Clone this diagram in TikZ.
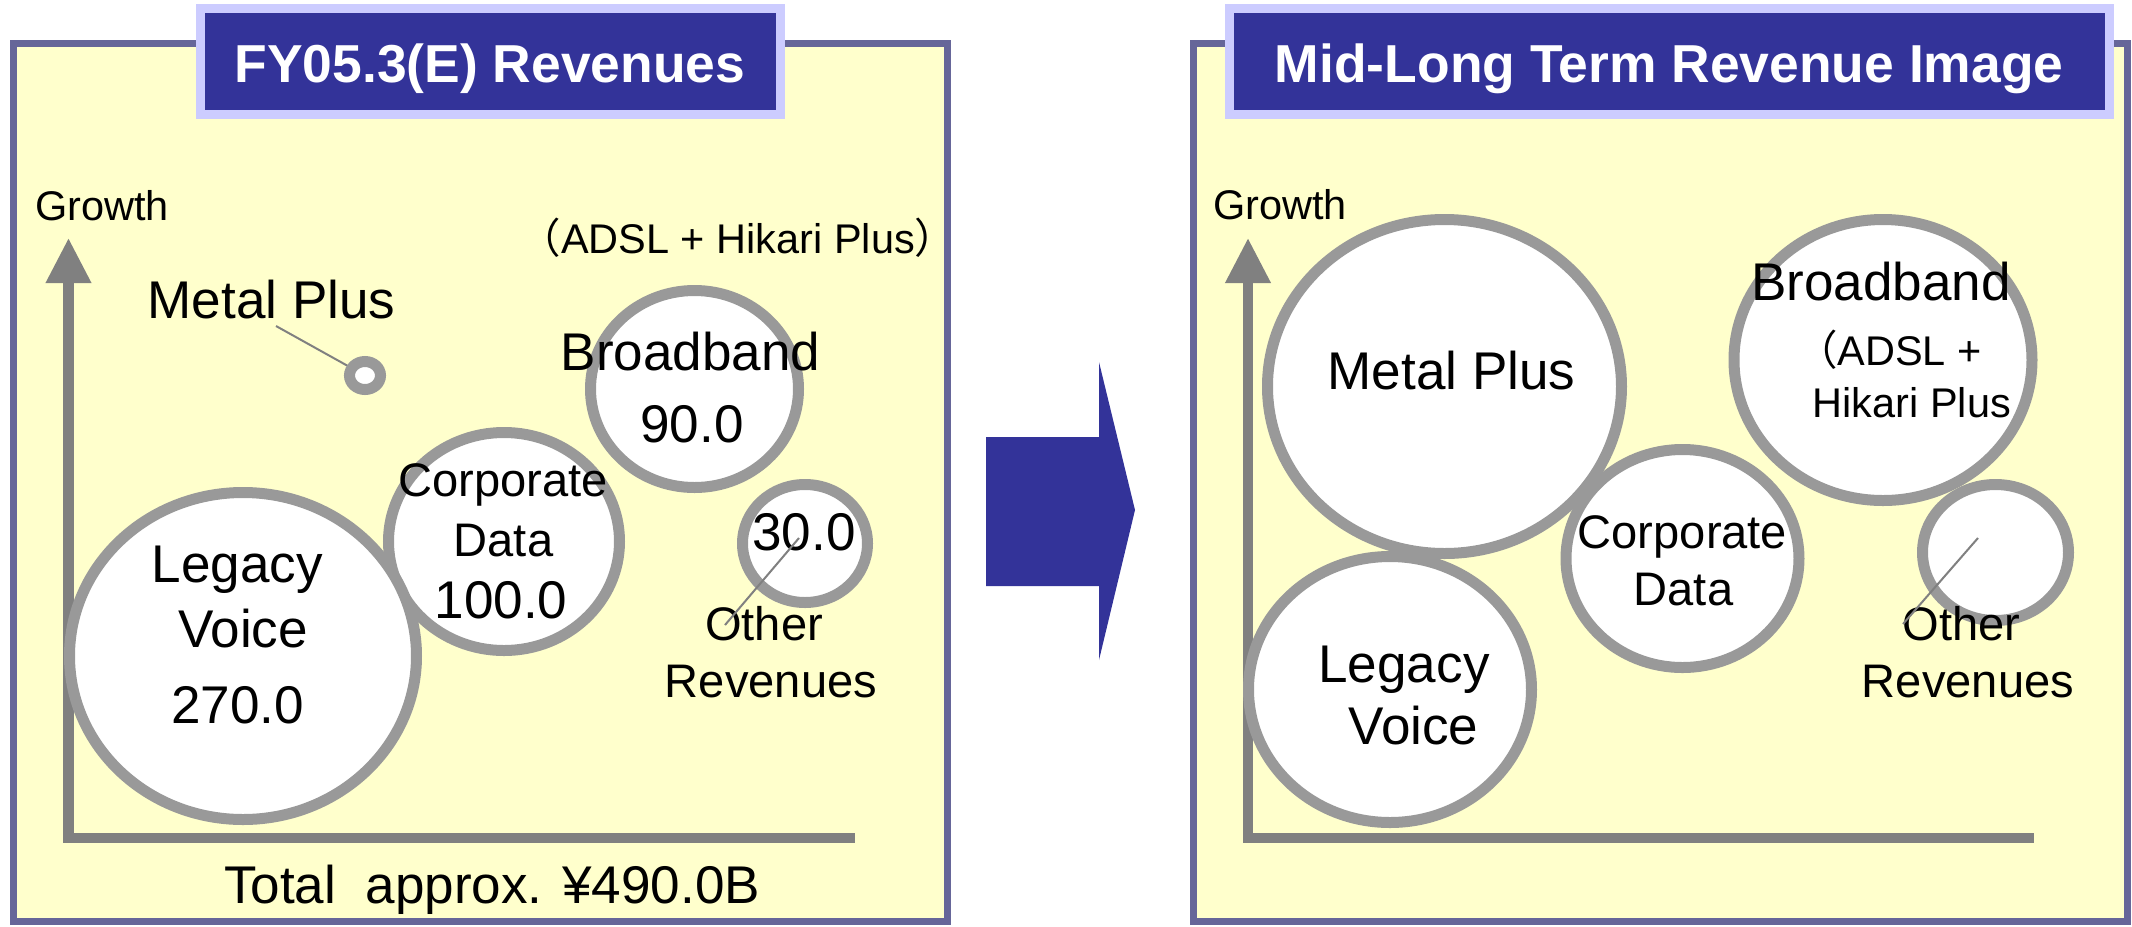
\documentclass[tikz,border=0pt]{standalone}
\usepackage{fontspec}
\setmainfont{Liberation Sans}
\newfontfamily\cjk{Noto Sans CJK JP}
\usetikzlibrary{arrows.meta,shapes.geometric}
\definecolor{panelfill}{HTML}{FFFFCC}
\definecolor{panelline}{HTML}{666699}
\definecolor{titlefill}{HTML}{333399}
\definecolor{titleline}{HTML}{CCCCFF}
\definecolor{bubbleline}{HTML}{999999}
\definecolor{axisgray}{HTML}{808080}
\tikzset{
  panelbox/.style={draw=panelline, fill=panelfill, line width=0.07cm},
  titlebox/.style={draw=titleline, fill=titlefill, line width=0.09cm, text=white,
    font=\fontsize{15.2pt}{18pt}\selectfont\bfseries, minimum height=1.055cm,
    text height=0.5cm, text depth=0.08cm, inner sep=0pt},
  bubble/.style={ellipse, draw=bubbleline, fill=white, line width=0.11cm, inner sep=0pt},
  bigtext/.style={inner sep=0pt, anchor=base, font=\fontsize{15.1pt}{18pt}\selectfont},
  midtext/.style={inner sep=0pt, anchor=base, font=\fontsize{13.4pt}{16pt}\selectfont},
  smalltext/.style={inner sep=0pt, anchor=base, font=\fontsize{11.8pt}{14pt}\selectfont},
  axisline/.style={draw=axisgray, line width=0.1cm, {Triangle[width=0.43cm,length=0.45cm]}-},
  leaderline/.style={draw=axisgray, line width=0.02cm}
}
\begin{document}
\begin{tikzpicture}[y=-1cm]
\useasboundingbox (0,0) rectangle (21.32,9.26);
\draw[panelbox] (0.13,0.435) rectangle (9.47,9.21);
\draw[panelbox] (11.93,0.435) rectangle (21.27,9.21);
\node[titlebox, minimum width=5.80cm] (ttlL) at (4.90,0.6125) {FY05.3(E) Revenues};
\node[titlebox, minimum width=8.795cm] (ttlR) at (16.6925,0.6125) {Mid-Long Term Revenue Image};
\fill[titlefill] (9.86,4.37) -- (10.99,4.37) -- (10.99,3.62) -- (11.35,5.10) -- (10.99,6.60) -- (10.99,5.86) -- (9.86,5.86) -- cycle;
%left
\coordinate (topL) at (0.685,2.38);
\coordinate (cornerL) at (0.685,8.375);
\coordinate (endL) at (8.55,8.375);
\draw[axisline] (topL) -- (cornerL) -- (endL);
\node[smalltext] (growL) at (1.02,2.20) {Growth};
\node[smalltext] (adslL) at (7.38,2.53) {{\cjk （}ADSL + Hikari Plus{\cjk ）}};
\node[bubble, minimum width=2.31cm, minimum height=2.18cm] (cdL) at (5.04,5.415) {};
\node[bubble, minimum width=3.47cm, minimum height=3.27cm] (lvL) at (2.43,6.56) {};
\node[bubble, minimum width=2.08cm, minimum height=1.97cm] (bbL) at (6.945,3.89) {};
\node[bubble, minimum width=1.25cm, minimum height=1.18cm] (orL) at (8.05,5.435) {};
\node[bubble, minimum width=0.31cm, minimum height=0.28cm] (mpL) at (3.65,3.755) {};
\node[bigtext] (mptxtL) at (2.715,3.18) {Metal Plus};
\node[bigtext] (bbtxtL) at (6.905,3.70) {Broadband};
\node[bigtext] (bbvalL) at (6.92,4.42) {90.0};
\node[midtext] (cdtxtL) at (5.03,4.96) {Corporate};
\node[midtext] (cdtxtL2) at (5.035,5.56) {Data};
\node[bigtext] (cdvalL) at (5.01,6.18) {100.0};
\node[bigtext] (lvtxtL) at (2.375,5.82) {Legacy};
\node[bigtext] (lvtxtL2) at (2.43,6.47) {Voice};
\node[bigtext] (lvvalL) at (2.375,7.23) {270.0};
\node[bigtext] (orvalL) at (8.04,5.50) {30.0};
\node[midtext] (ortxtL) at (7.64,6.40) {Other};
\node[midtext] (ortxtL2) at (7.71,6.97) {Revenues};
\node[bigtext] (totalL) at (4.92,9.03) {Total\ \ approx. ¥490.0B};
\draw[leaderline] ([shift={(0.045,0.08)}]mptxtL.base) -- (mpL);
\draw[leaderline] ([shift={(-0.39,-0.15)}]ortxtL.base) -- ([shift={(-0.06,-0.055)}]orL.center);
%right
\coordinate (topR) at (12.48,2.38);
\coordinate (cornerR) at (12.48,8.375);
\coordinate (endR) at (20.34,8.375);
\draw[axisline] (topR) -- (cornerR) -- (endR);
\node[smalltext] (growR) at (12.80,2.19) {Growth};
\node[bubble, minimum width=3.54cm, minimum height=3.34cm] (mpR) at (14.445,3.865) {};
\node[bubble, minimum width=2.98cm, minimum height=2.81cm] (bbR) at (18.83,3.60) {};
\node[bubble, minimum width=2.33cm, minimum height=2.18cm] (cdR) at (16.825,5.585) {};
\node[bubble, minimum width=2.83cm, minimum height=2.66cm] (lvR) at (13.90,6.895) {};
\node[bubble, minimum width=1.46cm, minimum height=1.36cm] (orR) at (19.955,5.525) {};
\node[bigtext] (mptxtR) at (14.515,3.89) {Metal Plus};
\node[bigtext] (bbtxtR) at (18.81,3.00) {Broadband};
\node[smalltext, anchor=base west] (bbnoteR) at (17.955,3.65) {{\cjk （}ADSL +};
\node[smalltext, anchor=base west] (bbnoteR2) at (18.12,4.17) {Hikari Plus};
\node[midtext] (cdtxtR) at (16.825,5.48) {Corporate};
\node[midtext] (cdtxtR2) at (16.835,6.05) {Data};
\node[bigtext] (lvtxtR) at (14.04,6.82) {Legacy};
\node[bigtext] (lvtxtR2) at (14.135,7.44) {Voice};
\node[midtext] (ortxtR) at (19.615,6.40) {Other};
\node[midtext] (ortxtR2) at (19.68,6.97) {Revenues};
\draw[leaderline] ([shift={(-0.585,-0.16)}]ortxtR.base) -- ([shift={(-0.175,-0.145)}]orR.center);
\end{tikzpicture}
\end{document}
